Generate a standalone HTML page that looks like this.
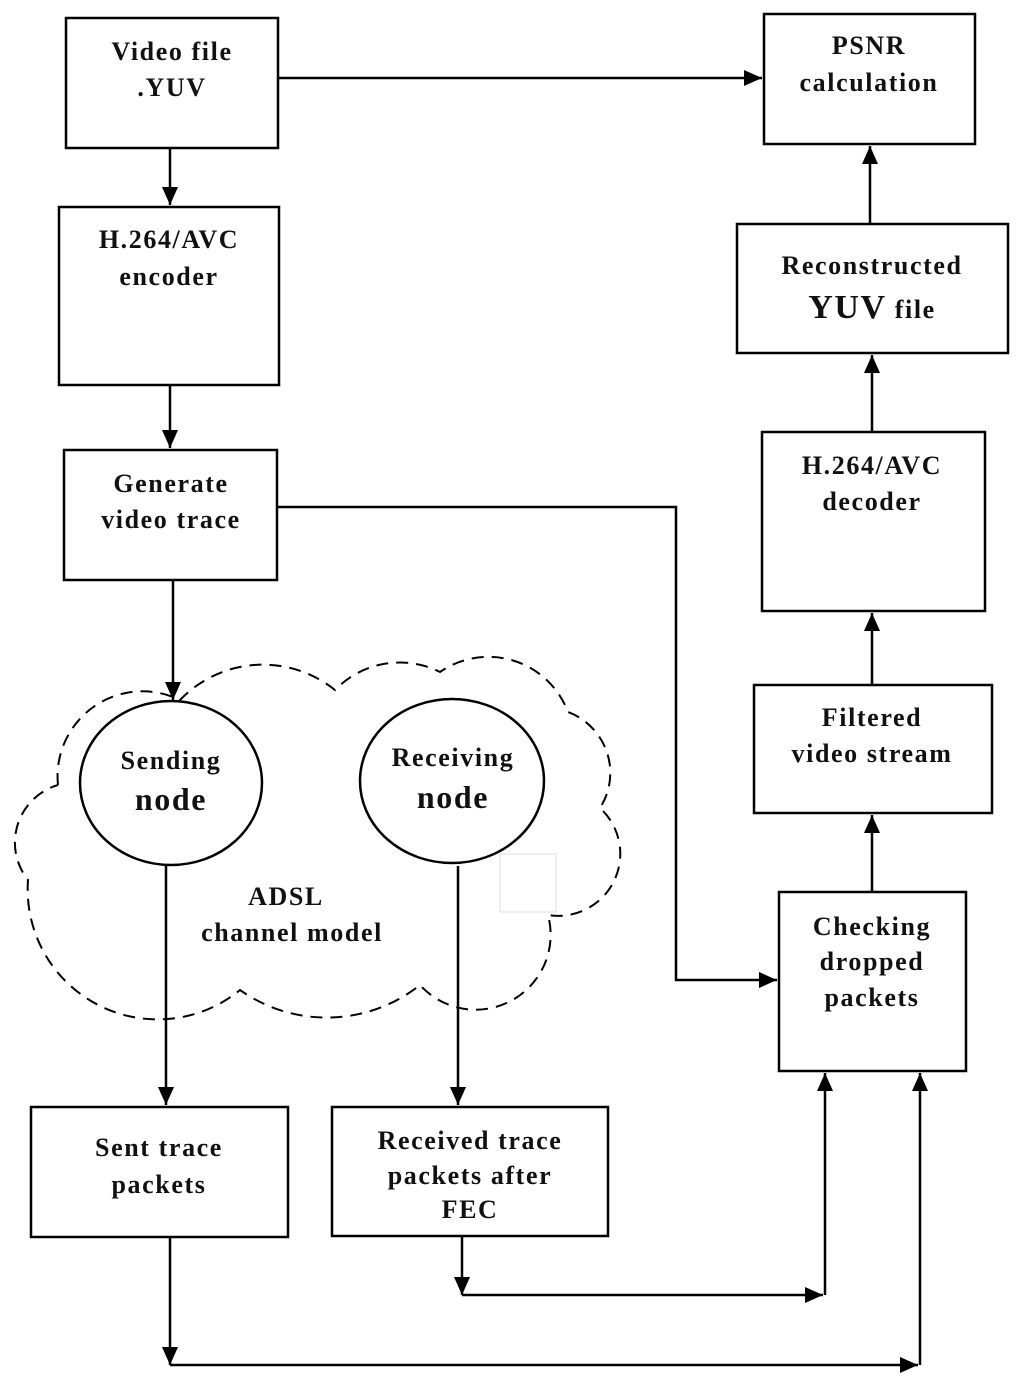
<!DOCTYPE html>
<html><head><style>body{margin:0;background:#fff}svg{display:block}text{font-family:"Liberation Serif",serif;font-weight:bold;fill:#111;text-anchor:middle;letter-spacing:1.6px}</style></head>
<body>
<svg width="1024" height="1393" viewBox="0 0 1024 1393" xmlns="http://www.w3.org/2000/svg">
<defs><marker id="b" markerWidth="20" markerHeight="20" refX="18" refY="8" orient="auto" markerUnits="userSpaceOnUse"><path d="M0,0 L18,8 L0,16 z" fill="#000"/></marker></defs>
<g fill="none" stroke="#000" stroke-width="2.5">
<rect x="66" y="18" width="212" height="130"/>
<rect x="764" y="14" width="211" height="130"/>
<rect x="59" y="207" width="220" height="178"/>
<rect x="64" y="450" width="213" height="130"/>
<rect x="737" y="224" width="271" height="129"/>
<rect x="762" y="432" width="223" height="179"/>
<rect x="754" y="685" width="238" height="128"/>
<rect x="779" y="892" width="187" height="179"/>
<rect x="31" y="1107" width="257" height="130"/>
<rect x="332" y="1107" width="276" height="129"/>
<ellipse cx="171" cy="783" rx="91" ry="82"/>
<ellipse cx="452" cy="781" rx="92" ry="82"/>
</g>
<rect x="500" y="854" width="56" height="58" fill="none" stroke="#ddd" stroke-width="1"/>
<path fill="none" stroke="#000" stroke-width="2" stroke-dasharray="12,8" d="M58,785 A85,85 0 0 1 180,700 A115,115 0 0 1 335,690 A90,90 0 0 1 440,672 A85,85 0 0 1 568,712 A65,65 0 0 1 600,808 A62,62 0 0 1 548,915 A75,75 0 0 1 420,985 A150,150 0 0 1 240,990 A130,130 0 0 1 28,880 A60,60 0 0 1 58,785"/>
<g fill="none" stroke="#000" stroke-width="2.5">
<path d="M278,78 H762" marker-end="url(#b)"/>
<path d="M170,148 V205" marker-end="url(#b)"/>
<path d="M170,385 V448" marker-end="url(#b)"/>
<path d="M173,580 V700" marker-end="url(#b)"/>
<path d="M277,507 H676 V980 H777" marker-end="url(#b)"/>
<path d="M166,866 V1105" marker-end="url(#b)"/>
<path d="M458,866 V1105" marker-end="url(#b)"/>
<path d="M462,1237 V1295" marker-end="url(#b)"/>
<path d="M462,1295 H823" marker-end="url(#b)"/>
<path d="M825,1295 V1073" marker-end="url(#b)"/>
<path d="M170,1237 V1365" marker-end="url(#b)"/>
<path d="M170,1365 H918" marker-end="url(#b)"/>
<path d="M920,1365 V1073" marker-end="url(#b)"/>
<path d="M872,892 V815" marker-end="url(#b)"/>
<path d="M872,685 V613" marker-end="url(#b)"/>
<path d="M872,432 V355" marker-end="url(#b)"/>
<path d="M870,224 V146" marker-end="url(#b)"/>
</g>
<g font-size="26">
<text x="172" y="60">Video file</text><text x="172" y="96">.YUV</text>
<text x="869" y="54">PSNR</text><text x="869" y="91">calculation</text>
<text x="169" y="248">H.264/AVC</text><text x="169" y="285">encoder</text>
<text x="171" y="492">Generate</text><text x="171" y="528">video trace</text>
<text x="872" y="274">Reconstructed</text><text x="872" y="318"><tspan font-size="34">YUV</tspan> file</text>
<text x="872" y="474">H.264/AVC</text><text x="872" y="510">decoder</text>
<text x="872" y="726">Filtered</text><text x="872" y="762">video stream</text>
<text x="872" y="935">Checking</text><text x="872" y="970">dropped</text><text x="872" y="1006">packets</text>
<text x="159" y="1156">Sent trace</text><text x="159" y="1193">packets</text>
<text x="470" y="1149">Received trace</text><text x="470" y="1184">packets after</text><text x="470" y="1218">FEC</text>
<text x="171" y="769">Sending</text><text x="171" y="810" font-size="32">node</text>
<text x="453" y="766">Receiving</text><text x="453" y="808" font-size="32">node</text>
<text x="286" y="905">ADSL</text><text x="292" y="941">channel model</text>
</g>
</svg>
</body></html>
